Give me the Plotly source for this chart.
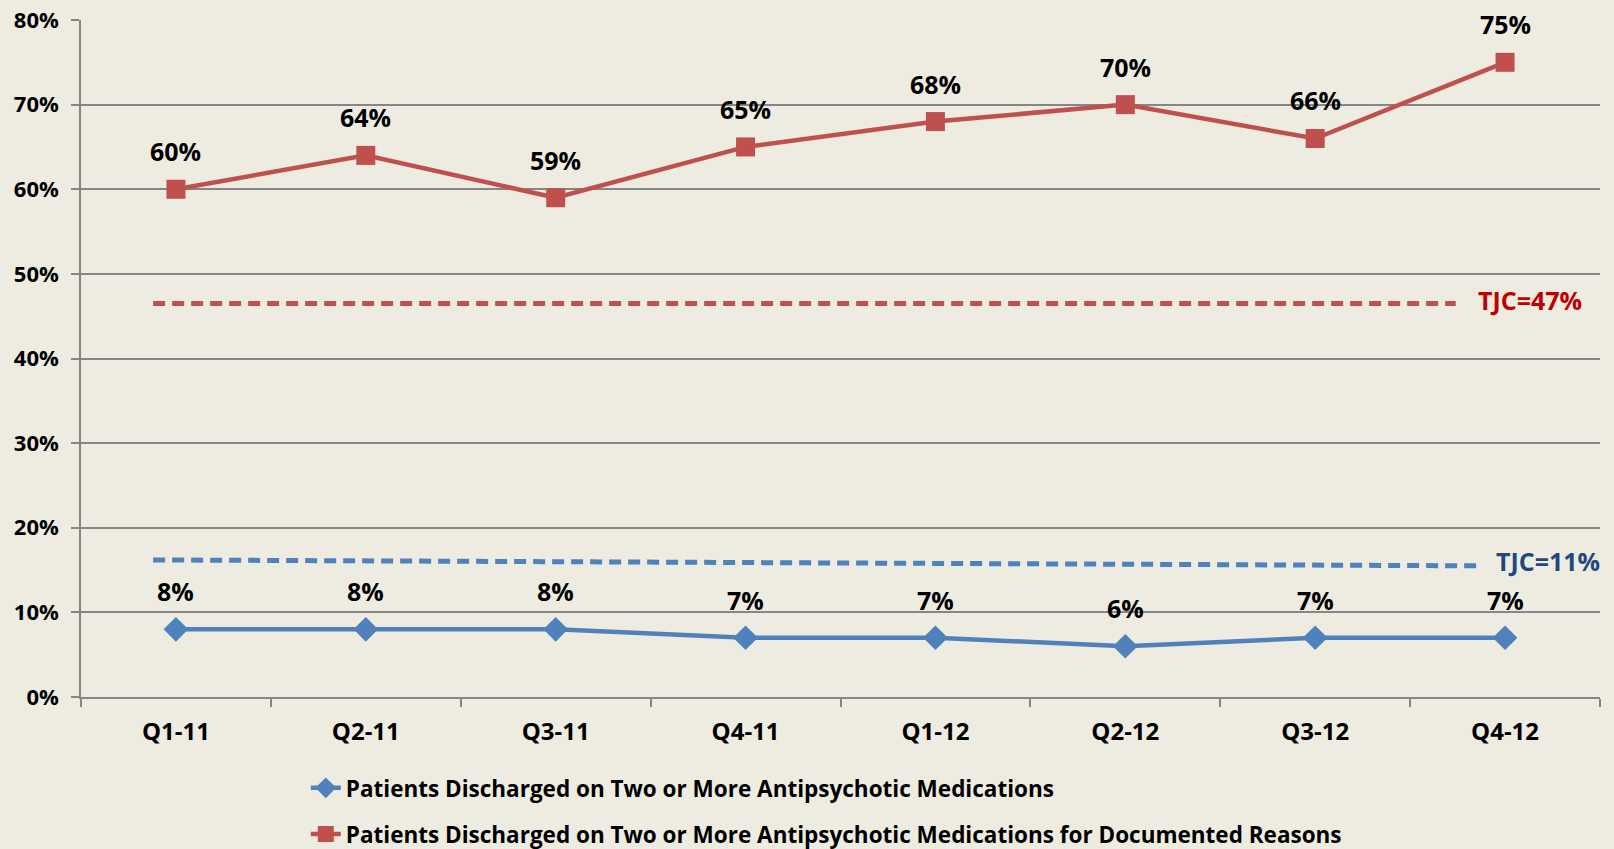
import plotly.graph_objects as go

categories = ["Q1-11", "Q2-11", "Q3-11", "Q4-11", "Q1-12", "Q2-12", "Q3-12", "Q4-12"]
two_or_more = [8, 8, 8, 7, 7, 6, 7, 7]
documented = [60, 64, 59, 65, 68, 70, 66, 75]
series_names = [
    "Patients Discharged on Two or More Antipsychotic Medications",
    "Patients Discharged on Two or More Antipsychotic Medications for Documented Reasons",
]
# TJC benchmark reference lines (as drawn): start/end x (category index), start/end y (%)
tjc_red_x = [-0.12, 6.74]
tjc_red_y = [46.5, 46.5]
tjc_blue_x = [-0.12, 6.87]
tjc_blue_y = [16.2, 15.5]
tjc_labels = ["TJC=47%", "TJC=11%"]

BG = "rgb(238,236,225)"
BLUE = "#4F81BD"
RED = "#C0504D"
FONT = "Open Sans"

fig = go.Figure()

# benchmark lines on a hidden linear x axis
fig.add_trace(go.Scatter(x=tjc_red_x, y=tjc_red_y, xaxis="x2", mode="lines",
                         line=dict(color=RED, width=5, dash="12px,7px"),
                         showlegend=False, hoverinfo="skip"))
fig.add_trace(go.Scatter(x=tjc_blue_x, y=tjc_blue_y, xaxis="x2", mode="lines",
                         line=dict(color=BLUE, width=5, dash="12px,7px"),
                         showlegend=False, hoverinfo="skip"))

fig.add_trace(go.Scatter(x=categories, y=two_or_more, name=series_names[0], mode="lines+markers",
                         line=dict(color=BLUE, width=4.5),
                         marker=dict(symbol="diamond", size=19, color=BLUE),
                         legendgroup="a"))
fig.add_trace(go.Scatter(x=categories, y=documented, name=series_names[1], mode="lines+markers",
                         line=dict(color=RED, width=4.5),
                         marker=dict(symbol="square", size=19, color=RED),
                         legendgroup="b"))

lab_font = dict(family=FONT, size=25, color="black", weight="bold")
annotations = []
for c, v in zip(categories, two_or_more):
    annotations.append(dict(x=c, y=v, text=f"{v}%", showarrow=False, yshift=38, font=lab_font))
for c, v in zip(categories, documented):
    annotations.append(dict(x=c, y=v, text=f"{v}%", showarrow=False, yshift=38, font=lab_font))

annotations.append(dict(x=tjc_red_x[1], y=tjc_red_y[1], xref="x2", yref="y", text=tjc_labels[0],
                        showarrow=False, xanchor="left", xshift=20, yshift=3,
                        font=dict(family=FONT, size=25, color="#C00000", weight="bold")))
annotations.append(dict(x=tjc_blue_x[1], y=tjc_blue_y[1], xref="x2", yref="y", text=tjc_labels[1],
                        showarrow=False, xanchor="left", xshift=14, yshift=5,
                        font=dict(family=FONT, size=25, color="#1F497D", weight="bold")))

fig.update_layout(
    width=1614, height=849,
    margin=dict(l=81, r=14, t=20, b=152, autoexpand=False),
    paper_bgcolor=BG, plot_bgcolor=BG,
    font=dict(family=FONT, size=20, color="black"),
    annotations=annotations,
    xaxis=dict(type="category", range=[-0.5, 7.5], showgrid=False, showline=True,
               linecolor="#868686", linewidth=1.5, ticks="outside", tickson="boundaries",
               ticklen=8, tickcolor="#868686", tickwidth=1.5, ticklabelstandoff=12,
               tickfont=dict(family=FONT, size=24, color="black", weight="bold"),
               zeroline=False),
    xaxis2=dict(range=[-0.5, 7.5], overlaying="x", visible=False),
    yaxis=dict(range=[0, 80], dtick=10, ticksuffix="%", showgrid=True, gridcolor="#868686",
               gridwidth=1.5, showline=True, linecolor="#868686", linewidth=1.5,
               ticks="outside", ticklen=8, tickcolor="#868686", tickwidth=1.5,
               ticklabelstandoff=8,
               tickfont=dict(family=FONT, size=22, color="black", weight="bold"),
               zeroline=False),
    legend=dict(x=0.148, y=-0.103, xanchor="left", yanchor="top", orientation="v",
                bgcolor="rgba(0,0,0,0)", traceorder="grouped", tracegroupgap=14,
                font=dict(family=FONT, size=22.5, color="black", weight="bold")),
    showlegend=True,
)

fig.write_html("out.html", config={"displayModeBar": False},
               post_script="document.body.style.margin='0';document.body.style.overflow='hidden';")
